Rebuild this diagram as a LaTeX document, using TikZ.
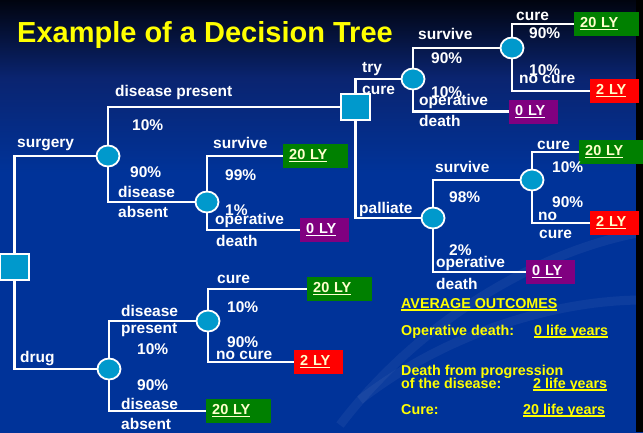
\documentclass[tikz,border=0pt]{standalone}
\usepackage{fontspec}
\setmainfont{Liberation Sans}
\usetikzlibrary{shapes.geometric}

\definecolor{bgblue}{HTML}{003399}
\definecolor{bgmid}{HTML}{0A2470}
\definecolor{bgdark}{HTML}{01040F}
\definecolor{nodeblue}{HTML}{0099CC}
\definecolor{lygreen}{HTML}{008000}
\definecolor{lyred}{HTML}{FF0000}
\definecolor{lypurple}{HTML}{800080}
\definecolor{lycream}{HTML}{FFFFCC}
\definecolor{ttlyellow}{HTML}{FFFF00}

% slide background, dark at the top
\pgfdeclareverticalshading{slidebg}{100bp}{color(0bp)=(bgblue); color(55bp)=(bgblue); color(66bp)=(bgmid); color(75bp)=(bgdark); color(100bp)=(bgdark)}

\newsavebox{\ulsave}
\newcommand{\ulbox}[1]{\sbox\ulsave{#1}\rlap{\rule[-2.8pt]{\wd\ulsave}{1.4pt}}\usebox\ulsave}

\begin{document}
\begin{tikzpicture}[
	x = 1pt, y = -1pt, % pixel grid, y downwards
	chance/.style = {ellipse, draw=white, line width=1.8pt, fill=nodeblue, minimum width=23pt, minimum height=21pt, inner sep=0pt},
	decision/.style = {rectangle, draw=white, line width=1.6pt, fill=nodeblue, minimum width=29pt, minimum height=26pt, inner sep=0pt},
	outcome/.style = {anchor=west, font=\fontsize{14.5}{16}\selectfont\bfseries, text=lycream, inner xsep=6pt, inner ysep=0pt, minimum height=24pt, align=left},
	ly20/.style = {outcome, fill=lygreen, text width=53pt},
	ly2/.style = {outcome, fill=lyred, text width=37pt},
	ly0/.style = {outcome, fill=lypurple, text=white, text width=37pt},
	lbl/.style = {anchor=base west, inner sep=0pt, text=white, font=\fontsize{15.5}{18}\selectfont\bfseries},
	avg/.style = {anchor=base west, inner sep=0pt, text=ttlyellow, font=\fontsize{14.3}{16}\selectfont\bfseries},
	branch/.style = {draw=white, line width=2.2pt}, % tree lines
	elbow/.style = {to path={|- (\tikztotarget)}},
	swoosh/.style = {draw=white, opacity=0.05, line width=9pt}
	]

	\useasboundingbox (0,0) rectangle (643,432);
	\shade[shading=slidebg] (0,0) rectangle (643,432);
	\draw[swoosh] (340,425) .. controls (420,320) and (540,250) .. (643,232);
	\draw[swoosh] (360,400) .. controls (450,330) and (560,300) .. (643,300);
	\fill[black] (636,0) rectangle (643,432);

	\node[anchor=base west, inner sep=0pt, text=ttlyellow, font=\fontsize{29}{32}\selectfont\bfseries] (title) at (17,42) {Example of a Decision Tree};

	% decision and chance nodes
	\node[decision] (root) at (14.5,267) {};
	\node[chance] (cS) at (108,156) {};
	\node[chance] (cA) at (207,202) {};
	\node[decision] (dTry) at (355.5,107) {};
	\node[chance] (cT) at (413,79) {};
	\node[chance] (cC1) at (512,48) {};
	\node[chance] (cP) at (433,218) {};
	\node[chance] (cC2) at (532,180) {};
	\node[chance] (cD) at (109,369) {};
	\node[chance] (cDP) at (208,321) {};

	% outcomes
	\node[ly20] (oC1) at (574,24) {\ulbox{20 LY}};
	\node[ly2] (oN1) at (590,91) {\ulbox{2 LY}};
	\node[ly0] (oO1) at (509,111.5) {\ulbox{0 LY}};
	\node[ly20] (oC2) at (579,152) {\ulbox{20 LY}};
	\node[ly2] (oN2) at (590,223) {\ulbox{2 LY}};
	\node[ly0] (oO2) at (526,272) {\ulbox{0 LY}};
	\node[ly20] (oSv) at (283,156) {\ulbox{20 LY}};
	\node[ly0] (oOd) at (300,230) {\ulbox{0 LY}};
	\node[ly20] (oC3) at (307,289) {\ulbox{20 LY}};
	\node[ly2] (oN3) at (294,362) {\ulbox{2 LY}};
	\node[ly20] (oAb) at (206,411) {\ulbox{20 LY}};

	\path[branch]
	(root.north) edge [elbow] (cS)
	(root.south) edge [elbow] (cD)
	(cS.north) edge [elbow] (dTry)
	(cS.south) edge [elbow] (cA)
	(cA.north) edge [elbow] (oSv)
	(cA.south) edge [elbow] (oOd)
	(dTry.north) edge [elbow] (cT)
	(dTry.south) edge [elbow] (cP)
	(cT.north) edge [elbow] (cC1)
	(cT.south) edge [elbow] (oO1)
	(cC1.north) edge [elbow] (oC1)
	(cC1.south) edge [elbow] (oN1)
	(cP.north) edge [elbow] (cC2)
	(cP.south) edge [elbow] (oO2)
	(cC2.north) edge [elbow] (oC2)
	(cC2.south) edge [elbow] (oN2)
	(cD.north) edge [elbow] (cDP)
	(cD.south) edge [elbow] (oAb)
	(cDP.north) edge [elbow] (oC3)
	(cDP.south) edge [elbow] (oN3);

	% surgery branch
	\node[lbl] (tSurg) at (17,147) {surgery};
	\node[lbl] (tDisP) at (115,96.5) {disease present};
	\node[lbl] (tP10a) at (132,130) {10\%};
	\node[lbl] (tP90a) at (130,177) {90\%};
	\node[lbl] (tDisA) at (118,197) {disease};
	\node[lbl] (tAbsA) at (118,217) {absent};
	\node[lbl] (tSurvA) at (213,148) {survive};
	\node[lbl] (tP99) at (225,180) {99\%};
	\node[lbl] (tP1) at (225,215) {1\%};
	\node[lbl] (tOpA) at (215,224) {operative};
	\node[lbl] (tDeathA) at (216,246) {death};

	% try cure
	\node[lbl] (tTry) at (362,72) {try};
	\node[lbl] (tCureT) at (362,94) {cure};
	\node[lbl] (tSurvT) at (418,39) {survive};
	\node[lbl] (tP90b) at (431,63) {90\%};
	\node[lbl] (tP10b) at (431,97) {10\%};
	\node[lbl] (tOpT) at (419,105) {operative};
	\node[lbl] (tDeathT) at (419,126) {death};
	\node[lbl] (tCure1) at (516,20) {cure};
	\node[lbl] (tP90c) at (529,38) {90\%};
	\node[lbl] (tP10c) at (529,75) {10\%};
	\node[lbl] (tNoCure1) at (519,83) {no cure};

	% palliate
	\node[lbl] (tPal) at (359,213) {palliate};
	\node[lbl] (tSurvP) at (435,172) {survive};
	\node[lbl] (tP98) at (449,202) {98\%};
	\node[lbl] (tP2) at (449,255) {2\%};
	\node[lbl] (tOpP) at (436,267) {operative};
	\node[lbl] (tDeathP) at (436,289) {death};
	\node[lbl] (tCure2) at (537,149) {cure};
	\node[lbl] (tP10d) at (552,172) {10\%};
	\node[lbl] (tP90d) at (552,207) {90\%};
	\node[lbl] (tNo) at (538,220) {no};
	\node[lbl] (tCure2b) at (539,238) {cure};

	% drug branch
	\node[lbl] (tDrug) at (20,362) {drug};
	\node[lbl] (tDisPD) at (121,316) {disease};
	\node[lbl] (tPresD) at (121,333) {present};
	\node[lbl] (tP10e) at (137,354) {10\%};
	\node[lbl] (tP90e) at (137,390) {90\%};
	\node[lbl] (tDisAD) at (121,409) {disease};
	\node[lbl] (tAbsD) at (121,429) {absent};
	\node[lbl] (tCure3) at (217,283) {cure};
	\node[lbl] (tP10f) at (227,312) {10\%};
	\node[lbl] (tP90f) at (227,347) {90\%};
	\node[lbl] (tNoCure3) at (216,359) {no cure};

	% average outcomes
	\node[avg] (tAvg) at (401,308) {\ulbox{AVERAGE OUTCOMES}};
	\node[avg] (tOpDeath) at (401,335) {Operative death:};
	\node[avg] (tOpVal) at (534,335) {\ulbox{0 life years}};
	\node[avg] (tProg) at (401,375) {Death from progression};
	\node[avg] (tProgB) at (401,388) {of the disease:};
	\node[avg] (tProgVal) at (533,388) {\ulbox{2 life years}};
	\node[avg] (tCure) at (401,414) {Cure:};
	\node[avg] (tCureVal) at (523,414) {\ulbox{20 life years}};
\end{tikzpicture}
\end{document}
